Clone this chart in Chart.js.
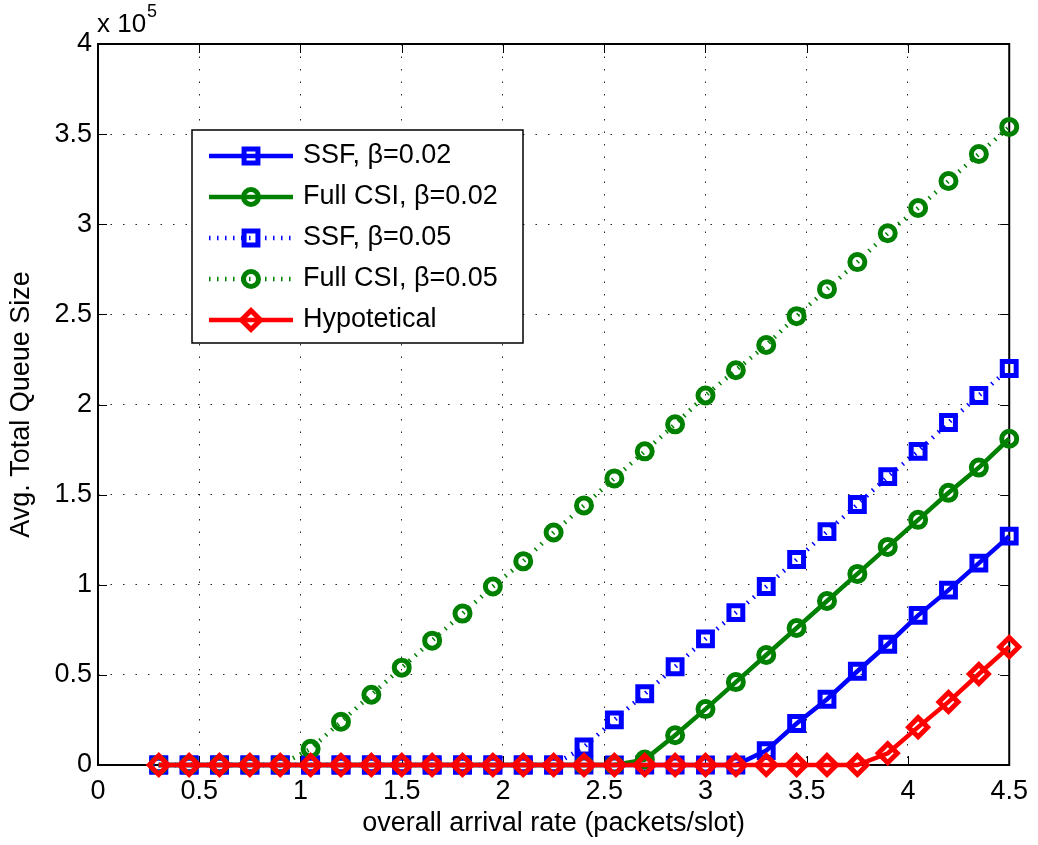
<!DOCTYPE html>
<html>
<head>
<meta charset="utf-8">
<title>Avg. Total Queue Size</title>
<script src="https://cdn.jsdelivr.net/npm/chart.js"></script>
<style>
  html, body { margin: 0; padding: 0; background: #fff; }
  #wrap { width: 1038px; height: 845px; }
</style>
</head>
<body>
<div id="wrap"><canvas id="queueChart" width="1038" height="845"></canvas></div>
<script>
// overall arrival rate (packets/slot)
const arrivalRate = [0.3, 0.45, 0.6, 0.75, 0.9, 1.05, 1.2, 1.35, 1.5, 1.65, 1.8, 1.95, 2.1, 2.25, 2.4,
    2.55, 2.7, 2.85, 3.0, 3.15, 3.3, 3.45, 3.6, 3.75, 3.9, 4.05, 4.2, 4.35, 4.5];

// avg. total queue size, in units of 10^5
const ssf002 = [0, 0, 0, 0, 0, 0, 0, 0, 0, 0, 0, 0, 0, 0, 0, 0, 0, 0, 0, 0,
    0.08, 0.23, 0.365, 0.52, 0.67, 0.83, 0.97, 1.12, 1.27];
const fullCsi002 = [0, 0, 0, 0, 0, 0, 0, 0, 0, 0, 0, 0, 0, 0, 0, 0,
    0.03, 0.165, 0.31, 0.46, 0.61, 0.76, 0.91, 1.06, 1.21, 1.36, 1.51, 1.65, 1.81];
const ssf005 = [0, 0, 0, 0, 0, 0, 0, 0, 0, 0, 0, 0, 0, 0,
    0.10, 0.25, 0.395, 0.545, 0.70, 0.845, 0.99, 1.14, 1.295, 1.445, 1.60, 1.74, 1.90, 2.05, 2.20];
const fullCsi005 = [0, 0, 0, 0, 0,
    0.09, 0.24, 0.39, 0.54, 0.69, 0.84, 0.99, 1.13, 1.29, 1.44, 1.59, 1.74, 1.89, 2.05,
    2.19, 2.33, 2.49, 2.64, 2.79, 2.95, 3.09, 3.24, 3.39, 3.54];
const hypothetical = [0, 0, 0, 0, 0, 0, 0, 0, 0, 0, 0, 0, 0, 0, 0, 0, 0, 0, 0, 0, 0, 0, 0, 0,
    0.065, 0.21, 0.35, 0.505, 0.655];

const xTickValues = [0, 0.5, 1, 1.5, 2, 2.5, 3, 3.5, 4, 4.5];
const yTickValues = [0, 0.5, 1, 1.5, 2, 2.5, 3, 3.5, 4];

const FONT = "'Liberation Sans', Arial, Helvetica, sans-serif";
Chart.defaults.font.family = FONT;
Chart.defaults.color = '#000';

function toPoints(values) {
    return arrivalRate.map((x, i) => ({ x: x, y: values[i] }));
}

function series(label, values, color, dotted, marker, radius, order) {
    return {
        label: label,
        data: toPoints(values),
        borderColor: color,
        backgroundColor: 'transparent',
        borderWidth: 4.5,
        borderDash: dotted ? [1.5, 6.5] : [],
        pointStyle: marker,
        pointRadius: radius,
        pointHoverRadius: radius,
        pointBorderColor: color,
        pointBackgroundColor: 'transparent',
        pointBorderWidth: 5,
        tension: 0,
        clip: false,
        order: order
    };
}

// unfilled marker, same shapes as the chart uses
function drawMarker(ctx, style, r, x, y) {
    ctx.beginPath();
    if (style === 'circle') {
        ctx.arc(x, y, r, 0, Math.PI * 2);
    } else if (style === 'rect') {
        const s = r * Math.SQRT1_2;
        ctx.rect(x - s, y - s, 2 * s, 2 * s);
    } else {
        ctx.moveTo(x, y - r);
        ctx.lineTo(x + r, y);
        ctx.lineTo(x, y + r);
        ctx.lineTo(x - r, y);
        ctx.closePath();
    }
    ctx.stroke();
}

const TICK_LEN = 9;

// box round the plot and inward ticks on all four sides
const frameAndTicks = {
    id: 'frameAndTicks',
    beforeDatasetsDraw(chart) {
        const { ctx, chartArea: a, scales } = chart;
        ctx.save();
        ctx.strokeStyle = '#000';
        ctx.lineWidth = 1;
        ctx.beginPath();
        scales.x.ticks.forEach(t => {
            const px = Math.round(scales.x.getPixelForValue(t.value)) + 0.5;
            ctx.moveTo(px, a.bottom); ctx.lineTo(px, a.bottom - TICK_LEN);
            ctx.moveTo(px, a.top); ctx.lineTo(px, a.top + TICK_LEN);
        });
        scales.y.ticks.forEach(t => {
            const py = Math.round(scales.y.getPixelForValue(t.value)) + 0.5;
            ctx.moveTo(a.left, py); ctx.lineTo(a.left + TICK_LEN, py);
            ctx.moveTo(a.right, py); ctx.lineTo(a.right - TICK_LEN, py);
        });
        ctx.stroke();
        ctx.lineWidth = 2;
        ctx.strokeRect(a.left, a.top, a.right - a.left, a.bottom - a.top);
        ctx.restore();
    }
};

// legend box inside the plot, plus the "x 10^5" exponent
const boxLegend = {
    id: 'boxLegend',
    afterDraw(chart) {
        const ctx = chart.ctx;
        const bx = 192, by = 130, bw = 331, bh = 213;
        ctx.save();
        ctx.fillStyle = '#fff';
        ctx.fillRect(bx, by, bw, bh);
        ctx.strokeStyle = '#000';
        ctx.lineWidth = 1.5;
        ctx.strokeRect(bx, by, bw, bh);

        chart.data.datasets.forEach((ds, i) => {
            const y = 156 + i * 41;
            ctx.strokeStyle = ds.borderColor;
            ctx.lineWidth = ds.borderWidth;
            ctx.setLineDash(ds.borderDash);
            ctx.beginPath();
            ctx.moveTo(209, y);
            ctx.lineTo(293, y);
            ctx.stroke();
            ctx.setLineDash([]);
            ctx.lineWidth = ds.pointBorderWidth;
            drawMarker(ctx, ds.pointStyle, ds.pointRadius, 251, y);
            ctx.fillStyle = '#000';
            ctx.font = '27px ' + FONT;
            ctx.textBaseline = 'middle';
            ctx.textAlign = 'left';
            ctx.fillText(ds.label, 303, y);
        });

        ctx.fillStyle = '#000';
        ctx.textBaseline = 'alphabetic';
        ctx.font = '26px ' + FONT;
        ctx.fillText('x 10', 97, 32);
        ctx.font = '18px ' + FONT;
        ctx.fillText('5', 147, 17);
        ctx.restore();
    }
};

const ctx = document.getElementById('queueChart').getContext('2d');
new Chart(ctx, {
    type: 'line',
    data: {
        datasets: [
            series('SSF, β=0.02', ssf002, '#0000ff', false, 'rect', 9.8, 4),
            series('Full CSI, β=0.02', fullCsi002, '#008000', false, 'circle', 7.5, 3),
            series('SSF, β=0.05', ssf005, '#0000ff', true, 'rect', 9.8, 2),
            series('Full CSI, β=0.05', fullCsi005, '#008000', true, 'circle', 7.5, 1),
            series('Hypotetical', hypothetical, '#ff0000', false, 'rectRot', 9.5, 0)
        ]
    },
    options: {
        responsive: false,
        animation: false,
        devicePixelRatio: 1,
        events: [],
        layout: { padding: { top: 44, right: 26, bottom: 0, left: 0 } },
        plugins: {
            legend: { display: false },
            tooltip: { enabled: false }
        },
        scales: {
            x: {
                type: 'linear',
                min: 0,
                max: 4.5,
                afterBuildTicks: scale => { scale.ticks = xTickValues.map(v => ({ value: v })); },
                afterFit: scale => { scale.height = 80; },
                ticks: {
                    font: { size: 27 },
                    color: '#000',
                    padding: 10,
                    maxRotation: 0,
                    autoSkip: false,
                    callback: v => String(v)
                },
                grid: { color: 'rgba(0,0,0,0.85)', lineWidth: 1, drawTicks: false },
                border: { display: false, dash: [1.5, 11] },
                title: {
                    display: true,
                    text: 'overall arrival rate (packets/slot)',
                    font: { size: 27 },
                    color: '#000',
                    padding: { top: 0, bottom: 5 }
                }
            },
            y: {
                type: 'linear',
                min: 0,
                max: 4,
                afterBuildTicks: scale => { scale.ticks = yTickValues.map(v => ({ value: v })); },
                afterFit: scale => { scale.width = 98; },
                ticks: {
                    font: { size: 27 },
                    color: '#000',
                    padding: 6,
                    callback: v => String(v)
                },
                grid: { color: 'rgba(0,0,0,0.85)', lineWidth: 1, drawTicks: false },
                border: { display: false, dash: [1.5, 11] },
                title: {
                    display: true,
                    text: 'Avg. Total Queue Size',
                    font: { size: 27 },
                    color: '#000',
                    padding: { top: 5, bottom: 0 }
                }
            }
        }
    },
    plugins: [frameAndTicks, boxLegend]
});
</script>
</body>
</html>
